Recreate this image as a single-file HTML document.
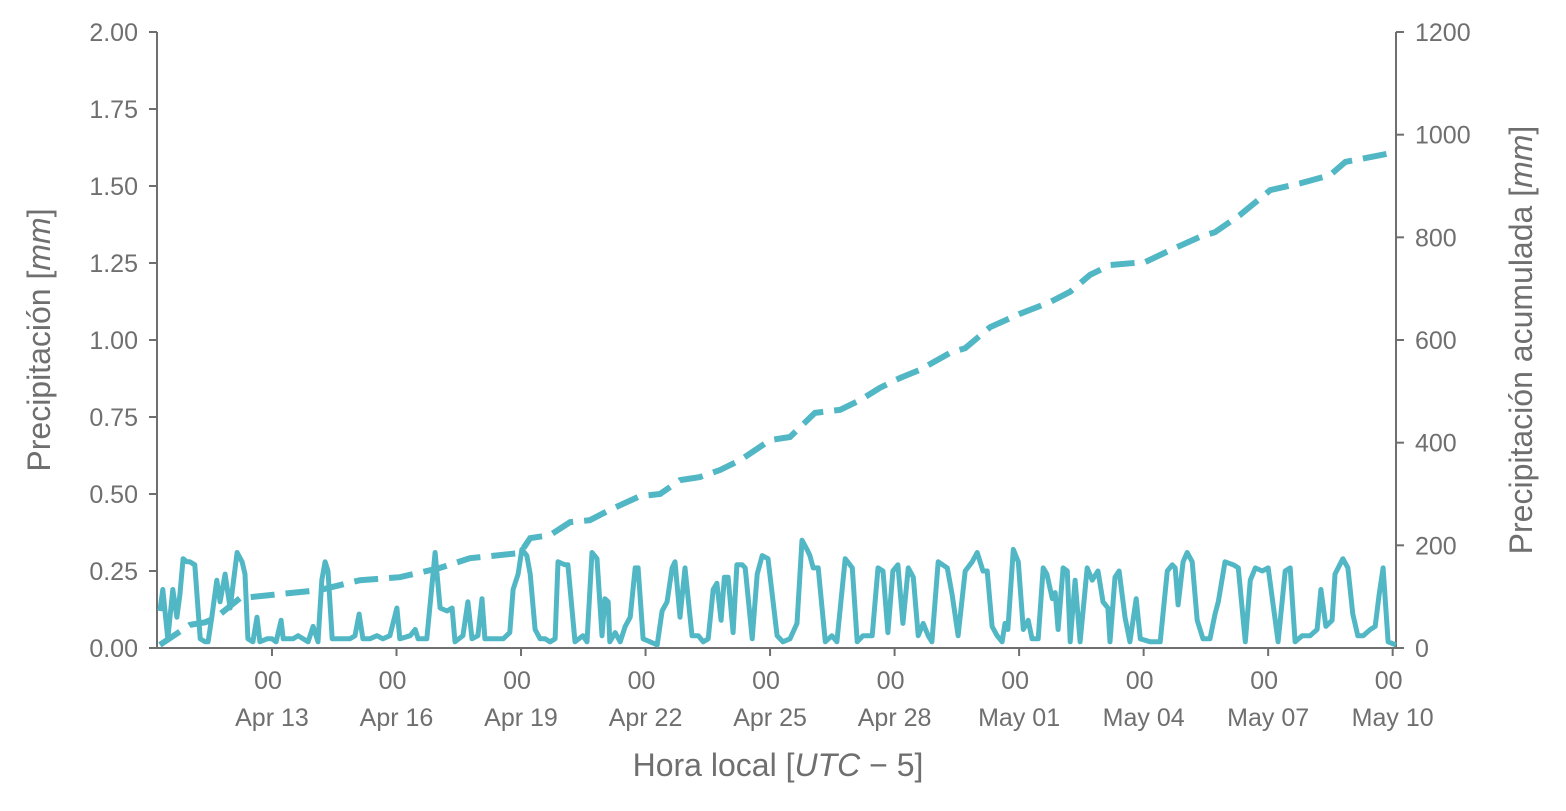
<!DOCTYPE html>
<html><head><meta charset="utf-8"><style>
body{margin:0;background:#fff;}
svg text{font-family:"Liberation Sans",sans-serif;fill:#6f6f6f;}
</style></head><body>
<svg id="chart" width="1566" height="806" xmlns="http://www.w3.org/2000/svg">
<g id="axes"></g><g id="series"></g>
</svg>
<script>
const hourlyDays=[0.30,0.37,0.49,0.61,0.71,0.78,0.86,0.95,1.02,1.14,1.27,1.39,1.46,1.55,1.67,1.75,1.87,1.99,2.16,2.28,2.35,2.42,2.54,2.64,2.71,2.88,3.00,3.10,3.22,3.27,3.51,3.63,3.75,3.87,3.99,4.11,4.20,4.28,4.35,4.45,4.71,4.88,5.00,5.10,5.19,5.36,5.53,5.67,5.84,6.01,6.08,6.33,6.45,6.52,6.73,6.93,7.05,7.22,7.34,7.41,7.60,7.72,7.82,7.96,8.06,8.13,8.33,8.57,8.73,8.81,8.93,9.02,9.14,9.22,9.34,9.46,9.58,9.70,9.82,9.89,10.06,10.13,10.30,10.49,10.59,10.71,10.83,10.95,11.02,11.10,11.14,11.27,11.39,11.51,11.63,11.75,11.82,11.94,12.11,12.28,12.40,12.52,12.64,12.71,12.83,12.95,13.12,13.27,13.39,13.51,13.63,13.72,13.82,13.90,13.99,14.11,14.20,14.33,14.40,14.57,14.69,14.81,14.95,15.17,15.31,15.48,15.65,15.77,15.89,15.96,16.04,16.16,16.33,16.49,16.61,16.81,16.98,17.10,17.24,17.46,17.60,17.72,17.84,17.96,18.08,18.20,18.33,18.45,18.57,18.69,18.81,18.90,19.05,19.27,19.39,19.53,19.70,19.87,19.99,20.13,20.23,20.35,20.47,20.59,20.66,20.73,20.86,20.98,21.10,21.22,21.31,21.46,21.58,21.67,21.80,21.87,21.94,22.06,22.16,22.23,22.35,22.47,22.64,22.76,22.90,23.02,23.14,23.19,23.31,23.41,23.55,23.67,23.82,23.92,24.16,24.40,24.57,24.69,24.76,24.83,24.95,25.05,25.17,25.29,25.43,25.60,25.72,25.80,25.96,26.16,26.28,26.45,26.57,26.69,26.86,27.00,27.24,27.41,27.53,27.65,27.82,28.01,28.18,28.27,28.39,28.54,28.61,28.80,28.92,29.04,29.16,29.29,29.46,29.58,29.67,29.77,29.89,30.08];
const hourlyPrecip=[.12,.19,.03,.19,.10,.17,.29,.28,.28,.27,.03,.02,.02,.10,.22,.15,.24,.13,.31,.28,.24,.03,.02,.10,.02,.03,.03,.02,.09,.03,.03,.04,.03,.02,.07,.02,.22,.28,.25,.03,.03,.03,.04,.11,.03,.03,.04,.03,.04,.13,.03,.04,.06,.03,.03,.31,.13,.12,.13,.02,.04,.15,.03,.04,.16,.03,.03,.03,.05,.19,.24,.32,.30,.24,.06,.03,.03,.02,.03,.28,.27,.27,.02,.04,.02,.31,.29,.04,.16,.15,.02,.05,.02,.07,.10,.26,.26,.03,.02,.01,.12,.15,.26,.28,.10,.26,.04,.04,.02,.03,.19,.21,.09,.23,.23,.05,.27,.27,.26,.03,.24,.30,.29,.04,.02,.03,.08,.35,.32,.30,.26,.26,.02,.04,.02,.29,.26,.02,.04,.04,.26,.25,.05,.25,.27,.08,.26,.23,.04,.08,.04,.02,.28,.26,.17,.04,.25,.28,.31,.25,.25,.07,.04,.02,.08,.06,.32,.28,.06,.09,.03,.03,.26,.24,.16,.18,.06,.26,.25,.02,.22,.02,.26,.22,.25,.15,.13,.02,.23,.25,.10,.02,.16,.03,.02,.02,.25,.27,.26,.14,.28,.31,.28,.09,.03,.03,.11,.15,.28,.27,.26,.02,.22,.26,.25,.26,.02,.25,.26,.02,.04,.04,.06,.19,.07,.09,.24,.29,.26,.11,.04,.04,.06,.07,.17,.26,.02,.01];
const cumDays=[0.30,1.02,1.39,1.63,2.23,3.19,4.16,5.12,6.08,7.05,7.77,8.98,9.22,9.70,10.18,10.66,11.14,11.87,12.35,12.83,13.31,13.80,14.28,15.00,15.48,16.08,16.69,17.17,17.65,18.13,18.61,19.34,19.70,20.30,21.02,21.75,22.23,22.71,23.19,24.04,24.64,25.36,25.72,26.33,27.05,27.77,28.49,28.86,29.70,30.08];
const cumPrecip=[6,45,50,58,97,105,113,132,138,156,175,185,214,220,245,249,269,296,300,327,333,347,366,405,411,458,464,483,507,526,542,575,584,625,651,674,694,727,746,752,775,801,810,844,892,905,921,947,960,966];
const leftTicks=[0,0.25,0.5,0.75,1,1.25,1.5,1.75,2];
const leftTickLabels=["0.00","0.25","0.50","0.75","1.00","1.25","1.50","1.75","2.00"];
const rightTicks=[0,200,400,600,800,1000,1200];
const xTickDays=[3,6,9,12,15,18,21,24,27,30];
const xTickLabels=["Apr 13","Apr 16","Apr 19","Apr 22","Apr 25","Apr 28","May 01","May 04","May 07","May 10"];

const X0=157,X1=1396,Y0=648,Y1=32,D0=0.23,D1=30.08;
const x=d=>X0+(d-D0)/(D1-D0)*(X1-X0);
const yL=v=>Y0-v/2*(Y0-Y1);
const yR=v=>Y0-v/1200*(Y0-Y1);
const NS="http://www.w3.org/2000/svg";
const ax=document.getElementById('axes'),se=document.getElementById('series');
function mk(t,a,p,txt){const e=document.createElementNS(NS,t);for(const k in a)e.setAttribute(k,a[k]);if(txt!==undefined)e.textContent=txt;p.appendChild(e);return e;}
const G='#6f6f6f';
let e;
e=mk('line',{x1:X0,y1:Y1,x2:X0,y2:Y0,stroke:G,'stroke-width':2},ax);


e=mk('line',{x1:X1,y1:Y1,x2:X1,y2:Y0,stroke:G,'stroke-width':2},ax);


e=mk('line',{x1:X0,y1:Y0,x2:X1,y2:Y0,stroke:G,'stroke-width':2},ax);


leftTicks.forEach((v,i)=>{
 mk('line',{x1:X0-8,x2:X0,y1:yL(v),y2:yL(v),stroke:G,'stroke-width':2},ax);
 e=mk('text',{x:X0-19,y:yL(v)+9,'text-anchor':'end','font-size':25},ax,leftTickLabels[i]);
 
 
});
rightTicks.forEach(v=>{
 mk('line',{x1:X1,x2:X1+8,y1:yR(v),y2:yR(v),stroke:G,'stroke-width':2},ax);
 e=mk('text',{x:X1+19,y:yR(v)+9,'text-anchor':'start','font-size':25},ax,String(v));
 
 
});
xTickDays.forEach((d,i)=>{
 mk('line',{x1:x(d),x2:x(d),y1:Y0,y2:Y0+8,stroke:G,'stroke-width':2},ax);
 e=mk('text',{x:x(d)-4,y:689,'text-anchor':'middle','font-size':25},ax,'00');
 
 
 e=mk('text',{x:x(d),y:726,'text-anchor':'middle','font-size':25},ax,xTickLabels[i]);
 
 
});
e=mk('text',{x:778,y:776,'text-anchor':'middle','font-size':32},ax);
e.innerHTML='Hora local [<tspan font-style="italic">UTC</tspan> − 5]';


e=mk('text',{transform:'translate(50,340) rotate(-90)','text-anchor':'middle','font-size':32},ax);
e.innerHTML='Precipitación [<tspan font-style="italic">mm</tspan>]';


e=mk('text',{transform:'translate(1532,340) rotate(-90)','text-anchor':'middle','font-size':32},ax);
e.innerHTML='Precipitación acumulada [<tspan font-style="italic">mm</tspan>]';


e=mk('path',{d:cumDays.map((d,i)=>(i?'L':'M')+x(d).toFixed(1)+','+yR(cumPrecip[i]).toFixed(1)).join(''),fill:'none',stroke:'#52b7c5','stroke-width':6,'stroke-dasharray':'24,11'},se);


e=mk('path',{d:hourlyDays.map((d,i)=>(i?'L':'M')+x(d).toFixed(1)+','+yL(hourlyPrecip[i]).toFixed(1)).join(''),fill:'none',stroke:'#52b7c5','stroke-width':5,'stroke-linejoin':'round'},se);


</script>
</body></html>
